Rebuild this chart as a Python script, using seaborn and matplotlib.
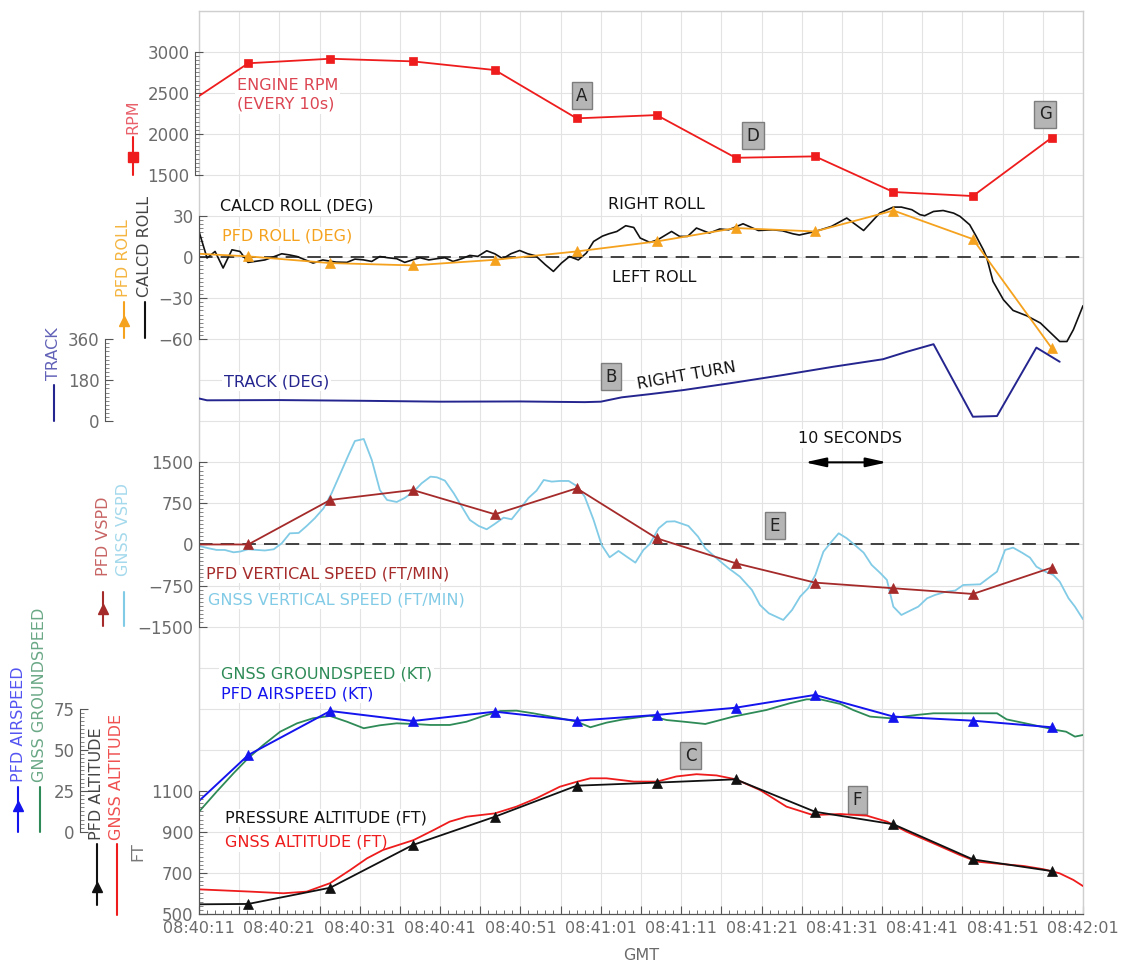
import numpy as np
import matplotlib
matplotlib.use("Agg")
import matplotlib.pyplot as plt
from matplotlib.lines import Line2D
from matplotlib.ticker import FixedLocator
import seaborn as sns

# ---------------------------------------------------------------------------
# Time axis: seconds after 08:40:11 GMT
# ---------------------------------------------------------------------------
time_labels = ["08:40:11", "08:40:21", "08:40:31", "08:40:41", "08:40:51", "08:41:01",
               "08:41:11", "08:41:21", "08:41:31", "08:41:41", "08:41:51", "08:42:01"]

# PFD / engine samples (one every ~10 s; the first one precedes the window)
pfd_t = [-3.9, 6.13, 16.33, 26.6, 36.83, 47.0, 56.95, 66.78, 76.66, 86.41, 96.3, 106.1]
engine_rpm = [2207, 2860, 2915, 2883, 2777, 2189, 2229, 1709, 1726, 1292, 1243, 1953]
pfd_roll = [3.6, 0.5, -4.4, -6.1, -2.0, 4.1, 11.4, 21.2, 18.7, 34.0, 13.1, -66.5]
pfd_vspd = [0, 0, 813, 995, 551, 1026, 113, -343, -697, -800, -904, -423]
pfd_airspeed = [1, 46.8, 73.6, 67.5, 73.2, 67.7, 71.2, 75.6, 83.4, 70.2, 67.7, 63.7]
pfd_altitude = [546, 549, 628, 836, 974, 1125, 1140, 1156, 998, 937, 766, 709]

# Calculated roll angle (deg)
calcd_roll_t = [
    0.0, 1.0, 2.0, 3.0, 4.1, 5.1, 6.1, 7.2, 8.2, 9.2,
    10.3, 11.3, 12.2, 13.2, 14.2, 15.4, 16.3, 17.1, 18.4, 19.4,
    20.4, 21.5, 22.5, 23.5, 24.6, 25.6, 26.6, 27.5, 28.6, 29.6,
    30.6, 31.6, 32.7, 33.7, 34.7, 35.8, 36.8, 37.8, 38.8, 39.9,
    40.9, 41.9, 43.1, 44.1, 45.1, 46.1, 47.2, 48.2, 49.1, 50.2,
    51.0, 52.0, 53.1, 54.1, 54.9, 56.1, 57.1, 58.8, 59.8, 60.8,
    61.9, 63.5, 64.8, 65.9, 67.7, 69.6, 71.4, 72.6, 73.9, 74.7,
    76.7, 78.7, 80.6, 82.7, 84.7, 86.4, 87.4, 88.7, 89.7, 90.3,
    91.4, 92.6, 93.9, 94.7, 95.9, 96.7, 97.6, 98.0, 98.8, 100.1,
    101.3, 103.0, 104.7, 107.1, 108.0, 108.8, 110.0]
calcd_roll = [
    18.7, -0.7, 4.1, -8.0, 5.3, 4.1, -3.9, -3.0, -2.1, 0.0,
    2.4, 1.5, 0.4, -2.0, -4.4, -2.1, -3.0, -3.7, -3.9, -1.5,
    -2.0, -3.2, 0.4, -0.5, -1.2, -3.9, -2.0, -0.5, -2.1, -1.2,
    -0.5, -3.2, -1.2, 1.2, 0.5, 4.6, 2.4, -1.2, 2.4, 4.8,
    2.4, 0.9, -5.6, -10.5, -4.4, 0.4, -2.1, 2.9, 11.4, 15.3,
    17.0, 18.7, 22.9, 21.6, 13.9, 10.7, 12.7, 18.7, 15.1, 15.1,
    21.2, 17.5, 20.5, 19.9, 24.3, 19.4, 19.9, 19.2, 17.0, 16.1,
    18.7, 22.4, 28.5, 19.4, 32.1, 36.5, 36.5, 34.6, 31.0, 30.2,
    33.3, 34.0, 32.1, 29.7, 23.6, 15.3, 5.3, 0.0, -17.8, -31.2,
    -39.0, -42.9, -48.2, -61.7, -61.7, -53.1, -35.6]

# GNSS track (deg)
track_t = [0.0, 1.0, 10.0, 20.0, 30.0, 40.0, 45.0, 48.0, 50.0, 52.6, 56.1,
           60.3, 66.5, 72.7, 78.9, 85.1, 88.1, 91.4, 96.3, 99.3, 104.2, 107.1]
track = [100, 92, 93, 90, 86, 87, 85, 84, 86, 105, 119,
         137, 169, 203, 239, 272, 305, 338, 20, 23, 323, 261]

# GNSS vertical speed (ft/min)
gnss_vspd_t = [
    0.0, 1.2, 2.2, 3.2, 4.3, 5.1, 6.1, 7.2, 8.2, 9.3,
    10.3, 11.3, 12.4, 13.4, 14.4, 15.5, 16.5, 17.6, 18.6, 19.4,
    20.5, 21.5, 22.5, 23.4, 24.6, 25.6, 26.7, 27.7, 28.8, 29.6,
    30.6, 31.7, 32.7, 33.7, 34.8, 35.8, 36.8, 37.9, 38.9, 40.0,
    41.0, 42.0, 42.9, 43.9, 44.9, 46.0, 47.0, 48.0, 49.1, 50.1,
    51.1, 52.2, 53.2, 54.3, 55.3, 56.1, 57.2, 58.2, 59.2, 60.9,
    62.1, 63.0, 64.4, 65.9, 67.3, 68.8, 69.8, 70.9, 72.7, 73.8,
    74.8, 75.8, 76.7, 77.7, 78.7, 79.6, 80.6, 81.6, 82.7, 83.7,
    84.8, 85.6, 86.4, 87.4, 88.5, 89.5, 90.6, 91.6, 93.0, 94.1,
    95.1, 97.2, 98.2, 99.3, 100.3, 101.3, 102.4, 103.4, 104.2, 105.3,
    106.3, 107.1, 108.2, 109.0, 110.0]
gnss_vspd = [
    -27, -70, -100, -100, -143, -130, -88, -100, -110, -88,
    22, 204, 210, 338, 478, 661, 935, 1300, 1634, 1890,
    1927, 1543, 995, 813, 776, 850, 965, 1117, 1239, 1227,
    1166, 935, 691, 448, 338, 277, 375, 490, 460, 661,
    850, 983, 1178, 1148, 1160, 1160, 1068, 873, 448, -10,
    -234, -118, -221, -332, -100, 9, 296, 417, 423, 338,
    143, -70, -252, -435, -587, -831, -1105, -1257, -1379, -1196,
    -953, -800, -557, -131, 51, 204, 113, -9, -149, -374,
    -526, -648, -1136, -1288, -1208, -1136, -983, -922, -861, -842,
    -740, -728, -617, -496, -100, -58, -149, -240, -405, -496,
    -557, -679, -983, -1136, -1366]

# GNSS groundspeed (kt)
gnss_gs_t = [
    0.0, 2.2, 4.3, 6.1, 8.0, 10.1, 12.2, 14.2, 16.3, 18.4,
    20.5, 22.5, 24.6, 26.7, 28.8, 31.2, 33.3, 35.4, 37.5, 39.5,
    41.6, 44.9, 47.0, 48.7, 50.7, 52.8, 56.1, 58.2, 60.3, 63.0,
    66.5, 70.6, 73.5, 75.6, 77.3, 79.8, 81.4, 83.5, 86.0, 89.3,
    91.4, 99.3, 100.5, 103.8, 106.7, 107.9, 109.0, 110.0]
gnss_gs = [
    12.3, 24.5, 35.7, 44.8, 52.9, 61.0, 66.1, 69.2, 70.6, 67.1,
    63.1, 64.9, 66.1, 65.7, 65.1, 65.1, 67.1, 70.6, 73.6, 73.8,
    72.2, 69.2, 67.1, 63.7, 66.5, 68.5, 70.7, 68.1, 67.1, 65.7,
    70.2, 74.2, 78.3, 80.7, 80.7, 77.9, 74.2, 70.2, 69.2, 71.2,
    72.2, 72.2, 68.5, 65.1, 62.0, 61.0, 58.0, 59.0]

# GNSS altitude (ft)
gnss_alt_t = [
    0.0, 6.4, 10.5, 13.4, 16.3, 18.8, 20.9, 22.9, 26.7, 29.2,
    31.2, 33.3, 36.8, 39.5, 42.0, 44.9, 47.0, 48.7, 50.7, 54.1,
    57.0, 59.4, 61.9, 64.4, 66.8, 69.8, 73.1, 76.4, 79.8, 83.1,
    85.6, 88.1, 91.4, 94.7, 96.8, 99.7, 102.6, 105.1, 107.1, 108.8,
    110.0]
gnss_alt = [
    620, 609, 601, 609, 650, 714, 771, 812, 860, 909,
    950, 974, 990, 1023, 1064, 1120, 1144, 1161, 1161, 1145,
    1145, 1170, 1181, 1175, 1156, 1104, 1023, 982, 987, 979,
    950, 900, 844, 787, 755, 744, 734, 718, 698, 666,
    636]

# ---------------------------------------------------------------------------
# Styling
# ---------------------------------------------------------------------------
sns.set_theme(style="white")
plt.rcParams["font.family"] = ["DejaVu Sans"]
plt.rcParams["axes.unicode_minus"] = True

C_RPM = "#ee1c1c"
C_ORANGE = "#f5a21e"
C_BLACK = "#111111"
C_TRACK = "#25258f"
C_PFDVS = "#a52a2a"
C_GNSSVS = "#82cbe6"
C_GS = "#2e8b57"
C_IAS = "#1414ee"
C_ALT = "#ee1c1c"
TICK_TXT = "#6b6b6b"
SPINE = "#555555"

DPI = 100
W, H = 1143, 965
fig = plt.figure(figsize=(W / DPI, H / DPI), dpi=DPI)
fig.patch.set_facecolor("white")

X0, X1, Y0, Y1 = 199.0, 1083.0, 10.7, 914.0   # plot frame, pixels from top-left
NROWS = 22
T_END = 110
pos = [X0 / W, 1 - Y1 / H, (X1 - X0) / W, (Y1 - Y0) / H]


def fx(x):
    return x / W


def fy(y):
    return 1 - y / H


def px_to_pt(p):
    return p * 72.0 / DPI


# Base axes: frame, square grid and the time axis
ax = fig.add_axes(pos)
ax.set_facecolor("white")
ax.set_xlim(0, T_END)
ax.set_ylim(NROWS, 0)
major = np.arange(0, T_END + 1, 5)
ax.set_xticks(major)
ax.set_xticklabels([time_labels[i // 2] if i % 2 == 0 else "" for i in range(len(major))])
ax.set_xticks(np.arange(0, T_END + 1, 1), minor=True)
ax.set_yticks(np.arange(0, NROWS + 1))
ax.grid(True, which="major", color="#e3e3e3", lw=0.8)
ax.tick_params(axis="y", length=0, labelleft=False, left=False)
ax.tick_params(axis="x", which="major", bottom=True, direction="in", length=6, width=0.8,
               color=SPINE, labelcolor=TICK_TXT, labelsize=11.5, pad=5)
ax.tick_params(axis="x", which="minor", bottom=True, direction="in", length=3, width=0.6,
               color=SPINE)
for s in ("top", "right", "left"):
    ax.spines[s].set_color("#cfcfcf")
    ax.spines[s].set_linewidth(1.0)
ax.spines["bottom"].set_color(SPINE)
ax.spines["bottom"].set_linewidth(0.9)
ax.set_xlabel("GMT", color=TICK_TXT, fontsize=11.5, labelpad=9)


def band(ref_val, ref_row, per_row, ticks, offset_px):
    """Transparent overlay whose value scale occupies a band of grid rows."""
    a = fig.add_axes(pos)
    a.patch.set_visible(False)
    a.set_xlim(0, T_END)
    a.set_ylim(ref_val - (NROWS - ref_row) * per_row, ref_val + ref_row * per_row)
    for s in ("top", "right", "bottom"):
        a.spines[s].set_visible(False)
    sp = a.spines["left"]
    sp.set_position(("outward", px_to_pt(offset_px)))
    sp.set_bounds(min(ticks), max(ticks))
    sp.set_color(SPINE)
    sp.set_linewidth(0.8)
    a.set_yticks(ticks)
    step = (ticks[1] - ticks[0]) / 10
    a.yaxis.set_minor_locator(FixedLocator(np.arange(min(ticks), max(ticks) + step / 2, step)))
    a.tick_params(axis="y", which="major", left=True, direction="in", length=6, width=0.8,
                  color=SPINE, labelcolor=TICK_TXT, labelsize=12, pad=4)
    a.tick_params(axis="y", which="minor", left=True, direction="in", length=3, width=0.5,
                  color=SPINE)
    a.tick_params(axis="x", bottom=False, labelbottom=False)
    a.grid(False)
    return a


def draw(a, x, y, color, lw=1.2, marker=None, ms=7):
    kw = dict(x=x, y=y, ax=a, color=color, linewidth=lw, legend=False, errorbar=None)
    if marker:
        kw.update(marker=marker, markersize=ms, markeredgecolor=color, markeredgewidth=0.5)
    sns.lineplot(**kw)
    a.set_xlabel("")
    a.set_ylabel("")


ax_rpm = band(3000, 1, 500, [1500, 2000, 2500, 3000], 4)
ax_roll = band(0, 6, 30, [-60, -30, 0, 30], 0)
ax_trk = band(0, 10, 180, [0, 180, 360], 94)
ax_vs = band(0, 13, 750, [-1500, -750, 0, 750, 1500], 0)
ax_spd = band(0, 20, 25, [0, 25, 50, 75], 119)
ax_alt = band(500, 22, 200, [500, 700, 900, 1100], 0)

# zero reference lines
for a in (ax_roll, ax_vs):
    a.axhline(0, color="#333333", lw=1.3, dashes=(7.5, 4.5), zorder=1)

draw(ax_rpm, pfd_t, engine_rpm, C_RPM, lw=1.3, marker="s", ms=6.3)
draw(ax_roll, calcd_roll_t, calcd_roll, C_BLACK, lw=1.2)
draw(ax_roll, pfd_t, pfd_roll, C_ORANGE, lw=1.3, marker="^", ms=7)
draw(ax_trk, track_t, track, C_TRACK, lw=1.4)
draw(ax_vs, gnss_vspd_t, gnss_vspd, C_GNSSVS, lw=1.3)
draw(ax_vs, pfd_t, pfd_vspd, C_PFDVS, lw=1.3, marker="^", ms=7)
draw(ax_spd, gnss_gs_t, gnss_gs, C_GS, lw=1.3)
draw(ax_spd, pfd_t, pfd_airspeed, C_IAS, lw=1.4, marker="^", ms=7)
draw(ax_alt, gnss_alt_t, gnss_alt, C_ALT, lw=1.3)
draw(ax_alt, pfd_t, pfd_altitude, C_BLACK, lw=1.3, marker="^", ms=7)

# ---------------------------------------------------------------------------
# In-plot labels (time in s, grid rows)
# ---------------------------------------------------------------------------
WHITE_BOX = dict(boxstyle="square,pad=0.12", fc="white", ec="none")
FS = 11.5


def label(t, row, s, color, ha="left", rot=0, ls=1.2):
    ax.text(t, row, s, color=color, fontsize=FS, ha=ha, va="center", rotation=rot,
            rotation_mode="anchor", bbox=WHITE_BOX, linespacing=ls, zorder=4)


def tag(t, row, s):
    ax.text(t, row, s, color="#222222", fontsize=12, ha="center", va="center", zorder=4,
            bbox=dict(boxstyle="square,pad=0.28", fc="#b5b5b5", ec="#7d7d7d", lw=1.0))


label(4.69, 2.05, "ENGINE RPM\n(EVERY 10s)", "#dc4552", ls=1.35)
label(2.6, 4.76, "CALCD ROLL (DEG)", C_BLACK)
label(2.8, 5.49, "PFD ROLL (DEG)", C_ORANGE)
label(50.9, 4.71, "RIGHT ROLL", C_BLACK)
label(51.36, 6.50, "LEFT ROLL", C_BLACK)
label(3.11, 9.04, "TRACK (DEG)", C_TRACK)
label(60.7, 8.90, "RIGHT TURN", C_BLACK, ha="center", rot=10)
label(81.0, 10.41, "10 SECONDS", C_BLACK, ha="center")
label(0.87, 13.72, "PFD VERTICAL SPEED (FT/MIN)", C_PFDVS)
label(1.12, 14.35, "GNSS VERTICAL SPEED (FT/MIN)", C_GNSSVS)
label(2.7, 16.15, "GNSS GROUNDSPEED (KT)", C_GS)
label(2.7, 16.64, "PFD AIRSPEED (KT)", C_IAS)
label(3.24, 19.66, "PRESSURE ALTITUDE (FT)", C_BLACK)
label(3.24, 20.25, "GNSS ALTITUDE (FT)", C_ALT)

tag(47.66, 2.07, "A")
tag(51.27, 8.91, "B")
tag(61.16, 18.14, "C")
tag(68.94, 3.04, "D")
tag(71.64, 12.54, "E")
tag(81.94, 19.22, "F")
tag(105.3, 2.52, "G")

ax.annotate("", xy=(75.4, 11.0), xytext=(85.6, 11.0),
            arrowprops=dict(arrowstyle="<|-|>,head_length=0.9,head_width=0.2",
                            color="black", lw=1.5, mutation_scale=14,
                            shrinkA=0, shrinkB=0), zorder=4)

# ---------------------------------------------------------------------------
# Series keys in the left margin (rotated labels with line samples)
# ---------------------------------------------------------------------------


def vlabel(x, y_bottom, s, color):
    fig.text(fx(x), fy(y_bottom), s, rotation=90, ha="center", va="bottom",
             color=color, fontsize=11.5)


def key(x, y0, y1, color, marker=None, my=None, ms=7):
    fig.add_artist(Line2D([fx(x), fx(x)], [fy(y0), fy(y1)], color=color, lw=1.5))
    if marker:
        fig.add_artist(Line2D([fx(x)], [fy(my)], marker=marker, ms=ms, color=color,
                              ls="none"))


vlabel(133, 133.5, "RPM", "#e8606a")
key(133, 137, 175, C_RPM, "s", 156.5, 6.5)

vlabel(124, 297, "PFD ROLL", "#f5b540")
key(124, 302, 338, C_ORANGE, "^", 321)
vlabel(144.5, 297, "CALCD ROLL", "#444444")
key(144.5, 302, 338, C_BLACK)

vlabel(54, 380, "TRACK", "#6262b8")
key(54, 385, 421, C_TRACK)

vlabel(103.3, 576, "PFD VSPD", "#c86464")
key(103.3, 592, 626, C_PFDVS, "^", 609)
vlabel(124, 576, "GNSS VSPD", "#a4d9ec")
key(124, 592, 626, C_GNSSVS)

vlabel(18.3, 782, "PFD AIRSPEED", "#5454f2")
key(18.3, 787, 832, C_IAS, "^", 806)
vlabel(40, 782, "GNSS GROUNDSPEED", "#6aa886")
key(40, 787, 832, C_GS)

vlabel(96.7, 840, "PFD ALTITUDE", "#444444")
key(96.7, 844, 905, C_BLACK, "^", 886.6)
vlabel(116.7, 840, "GNSS ALTITUDE", "#f05050")
key(116.7, 844, 915, C_ALT)
vlabel(138.3, 861, "FT", "#777777")

fig.savefig("out.png", dpi=DPI)
